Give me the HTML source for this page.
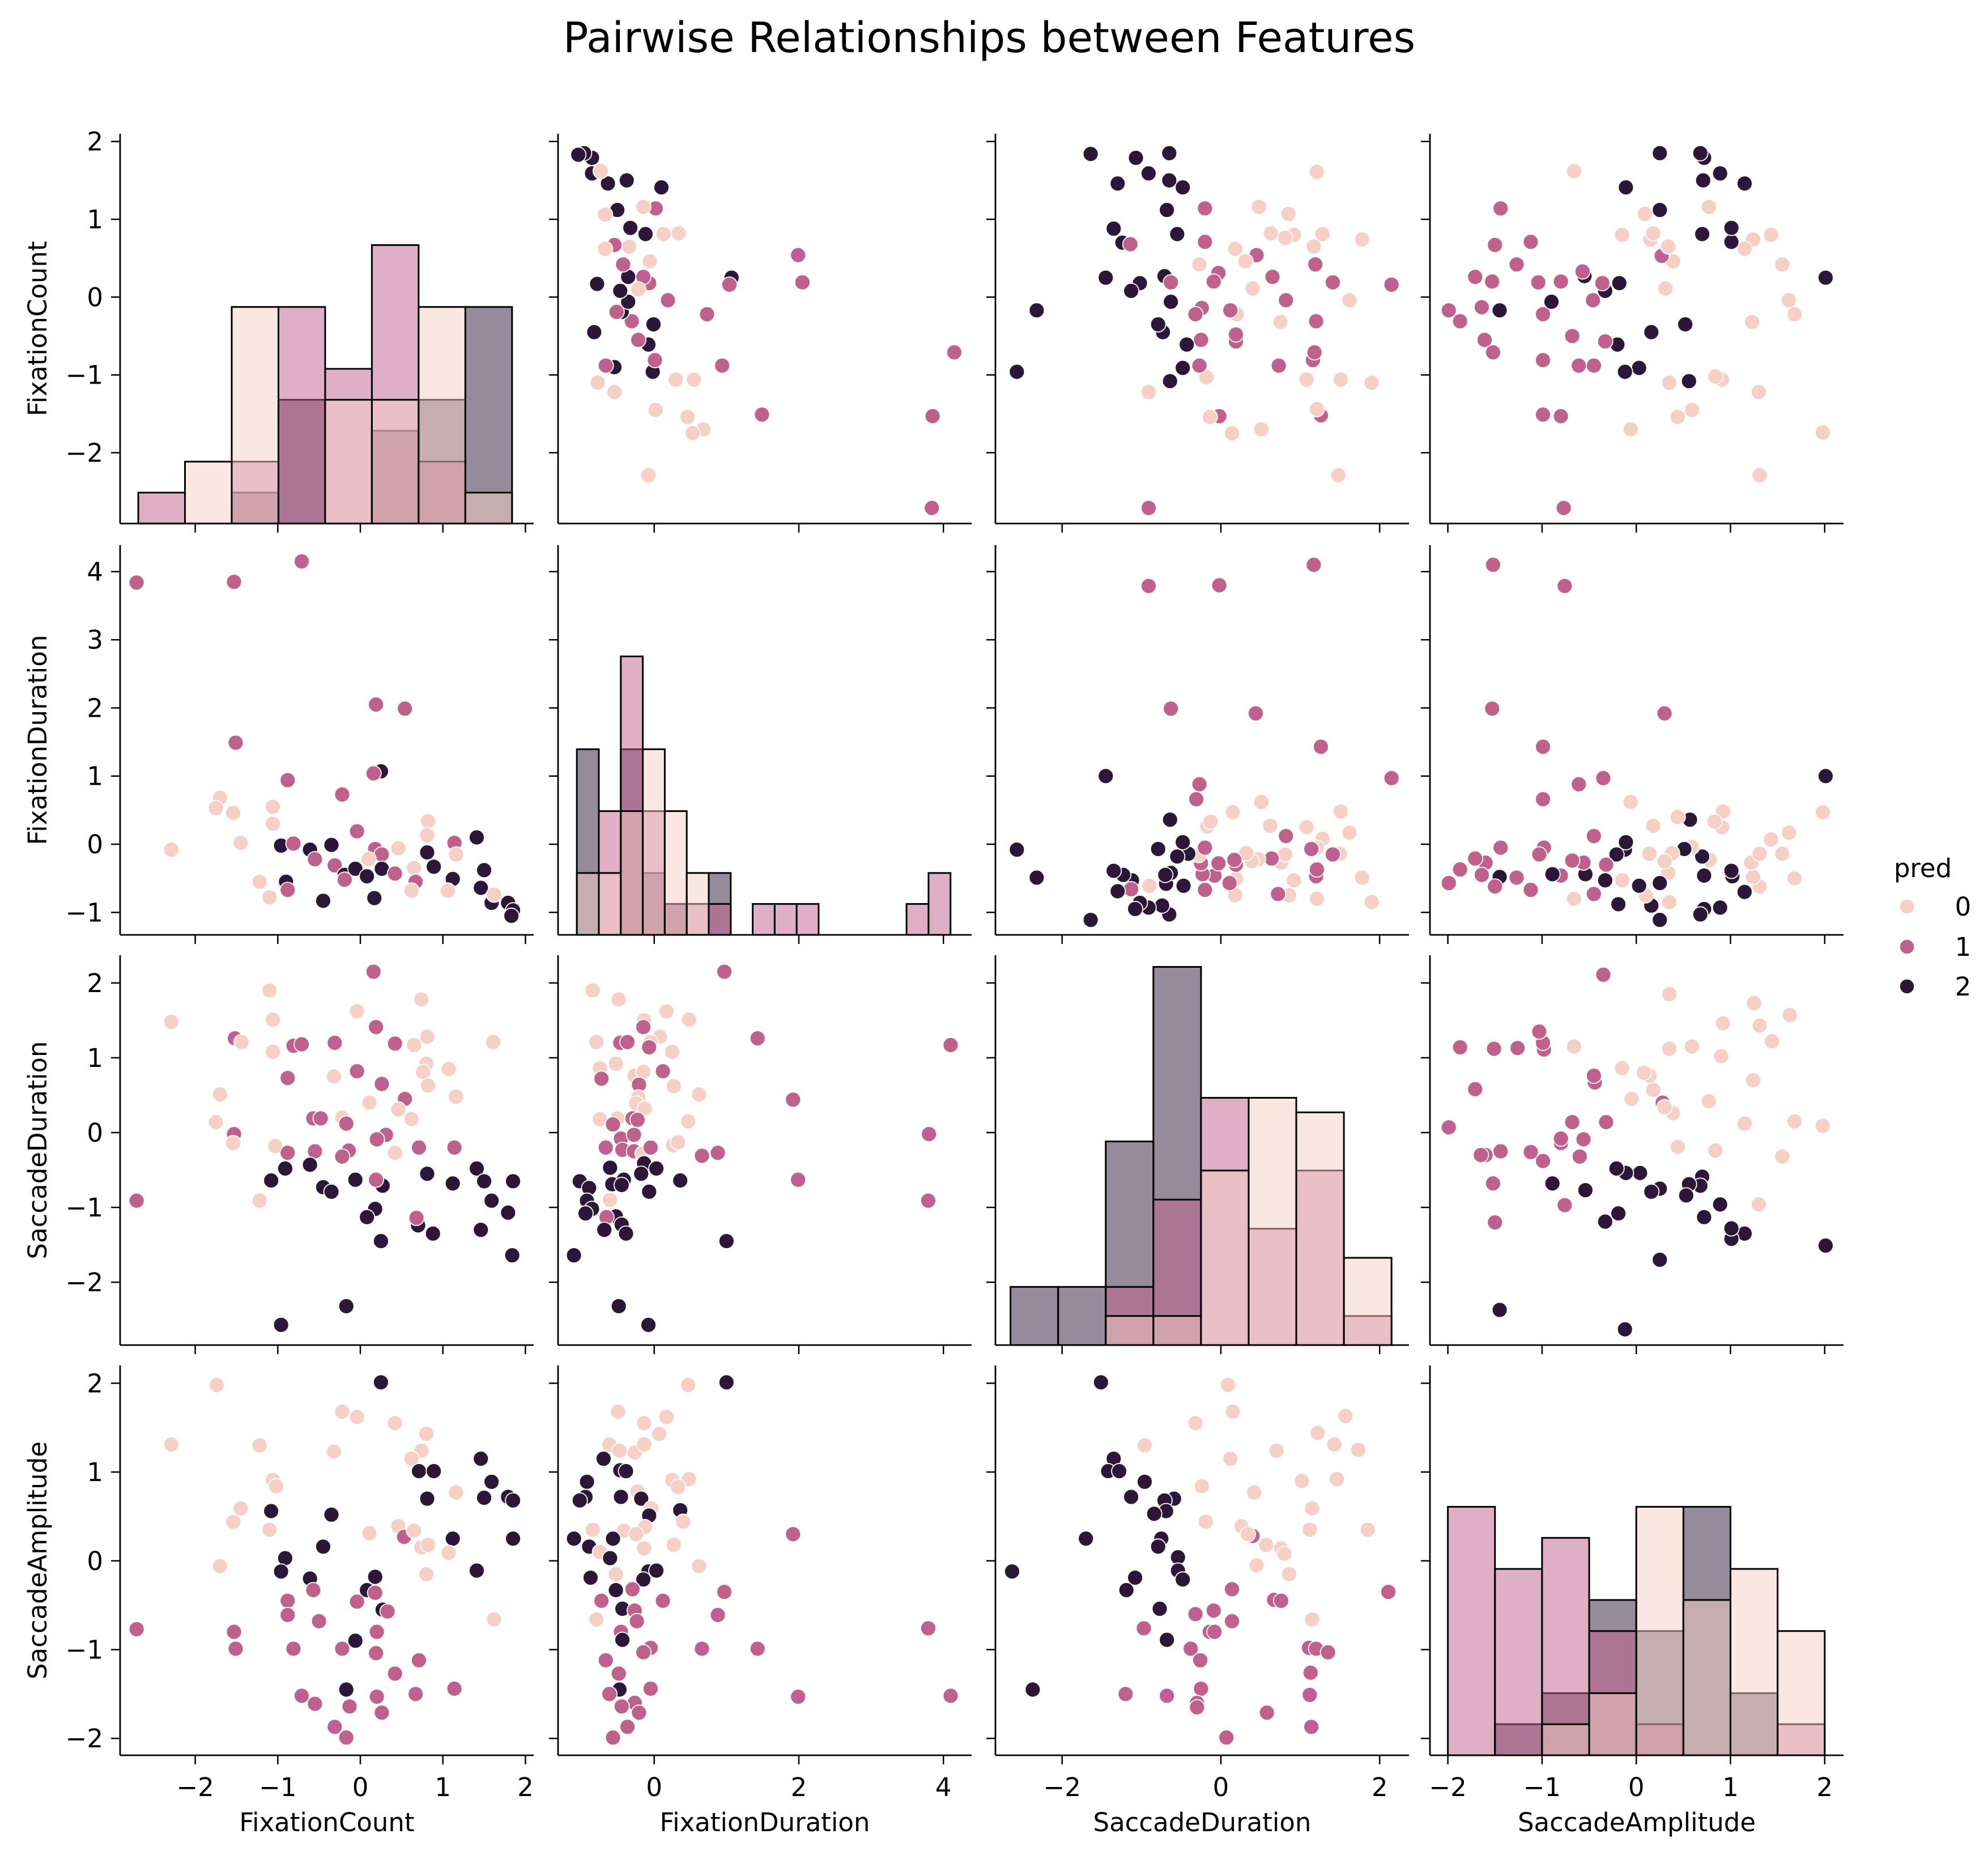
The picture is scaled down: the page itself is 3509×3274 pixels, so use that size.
<!DOCTYPE html>
<html>
<head>
<meta charset="utf-8">
<style>
  html, body { margin: 0; padding: 0; background: #ffffff; }
  svg { display: block; font-family: "DejaVu Sans", "Liberation Sans", sans-serif; }
</style>
</head>
<body>
<svg id="chart" xmlns="http://www.w3.org/2000/svg" width="3509" height="3274" viewBox="0 0 3509 3274">
  <rect x="0" y="0" width="3509" height="3274" fill="#ffffff"/>
  <text x="1746" y="92" font-size="74" text-anchor="middle" fill="#000">Pairwise Relationships between Features</text>
  <g id="panels"></g>
  <g id="legend">
    <text x="3394" y="1548" font-size="45" text-anchor="middle" fill="#000">pred</text>
  </g>
</svg>
<script>
// ---- data ----
const varNames = ['FixationCount', 'FixationDuration', 'SaccadeDuration', 'SaccadeAmplitude'];
const axisLimits = [[-2.91, 2.10], [-1.33, 4.39], [-2.84, 2.37], [-2.19, 2.20]];
const tickValues = [[-2, -1, 0, 1, 2], [0, 2, 4], [-2, 0, 2], [-2, -1, 0, 1, 2]];
const yTickValues = [[-2, -1, 0, 1, 2], [-1, 0, 1, 2, 3, 4], [-2, -1, 0, 1, 2], [-2, -1, 0, 1, 2]];
const hueLevels = ['0', '1', '2'];
const hueColors = ['#f6cfc5', '#c0608c', '#2d1738'];

// scatter pairs: [xValue, yValue, hue]; x = lower-index variable, y = higher-index variable
const countVsDuration = [
[-2.71,3.84,1],[-1.53,3.85,1],[-0.71,4.15,1],[0.19,2.05,1],[0.54,1.99,1],[-1.51,1.49,1],[0.25,1.07,2],[0.16,1.04,1],
[-0.88,0.94,1],[-0.22,0.73,1],[-1.70,0.68,0],[-1.75,0.53,0],[-1.54,0.46,0],[-1.06,0.55,0],[-1.06,0.30,0],[-1.45,0.02,0],
[-2.29,-0.08,0],[0.82,0.34,0],[0.81,0.13,0],[-0.04,0.19,1],[-0.96,-0.02,2],[-0.81,0.01,1],[-0.61,-0.08,2],[-0.35,-0.01,2],
[-0.55,-0.22,1],[-0.31,-0.31,1],[0.18,-0.07,1],[0.26,-0.15,1],[0.10,-0.22,0],[0.46,-0.06,0],[-0.19,-0.45,2],[-0.06,-0.36,2],
[0.08,-0.47,2],[0.26,-0.36,2],[0.42,-0.43,1],[0.65,-0.35,0],[0.67,-0.55,1],[0.62,-0.68,0],[0.81,-0.12,2],[0.89,-0.33,2],
[1.14,0.02,1],[1.16,-0.15,0],[1.41,0.10,2],[1.12,-0.51,2],[1.06,-0.68,0],[1.50,-0.38,2],[1.46,-0.64,2],[1.59,-0.86,2],
[1.62,-0.74,0],[1.79,-0.86,2],[1.85,-0.97,2],[1.83,-1.05,2],[-0.90,-0.55,2],[-0.88,-0.67,1],[-1.22,-0.55,0],[-1.10,-0.78,0],
[-0.45,-0.83,2],[0.17,-0.79,2],[-0.19,-0.52,1]
];
const countVsSaccDur = [
[0.16,2.15,1],[-1.10,1.90,0],[0.74,1.78,0],[-2.29,1.48,0],[-1.06,1.51,0],[-0.04,1.62,0],[0.19,1.41,1],[-1.52,1.26,1],
[-1.44,1.21,0],[-1.06,1.08,0],[-0.81,1.16,1],[-0.71,1.18,1],[-0.31,1.20,1],[0.42,1.19,1],[0.65,1.17,0],[0.81,1.28,0],
[1.61,1.21,0],[0.80,0.92,0],[0.76,0.81,0],[1.07,0.85,0],[0.82,0.63,0],[-0.88,0.73,1],[-0.32,0.75,0],[-0.04,0.82,1],
[0.26,0.65,1],[1.16,0.48,0],[0.54,0.45,1],[0.11,0.40,0],[0.46,0.31,0],[0.62,0.18,0],[-1.70,0.51,0],[-1.75,0.14,0],
[-1.53,-0.02,1],[-1.54,-0.14,0],[-0.57,0.19,1],[-0.48,0.19,1],[-0.22,0.20,0],[-0.17,0.12,1],[0.31,-0.03,1],[0.20,-0.09,1],
[-1.03,-0.18,0],[-0.88,-0.27,1],[-0.55,-0.25,1],[-0.14,-0.24,1],[-0.22,-0.32,1],[0.42,-0.27,0],[0.71,-0.20,1],[1.14,-0.20,1],
[-0.91,-0.48,2],[-0.61,-0.43,2],[-1.08,-0.64,2],[-0.45,-0.73,2],[-0.35,-0.79,2],[-0.06,-0.63,2],[0.27,-0.71,2],[0.19,-0.63,1],
[0.81,-0.55,2],[1.12,-0.68,2],[1.41,-0.48,2],[1.50,-0.65,2],[1.85,-0.65,2],[1.59,-0.91,2],[1.79,-1.07,2],[1.46,-1.30,2],
[1.84,-1.64,2],[0.18,-1.02,2],[0.08,-1.13,2],[0.70,-1.24,2],[0.68,-1.14,1],[0.88,-1.35,2],[0.25,-1.45,2],[-2.71,-0.91,1],
[-1.22,-0.91,0],[-0.17,-2.32,2],[-0.96,-2.57,2]
];
const countVsAmplitude = [
[0.25,2.01,2],[-1.74,1.98,0],[-0.22,1.68,0],[-0.04,1.62,0],[0.42,1.55,0],[0.80,1.43,0],[-2.29,1.31,0],[-1.22,1.30,0],
[-0.32,1.23,0],[0.74,1.24,0],[0.62,1.15,0],[1.46,1.15,2],[0.71,1.01,2],[0.89,1.01,2],[1.59,0.89,2],[-1.06,0.91,0],
[-1.02,0.84,0],[0.81,0.70,2],[1.16,0.77,0],[1.50,0.71,2],[1.79,0.72,2],[1.85,0.68,2],[-1.45,0.59,0],[-1.54,0.44,0],
[-1.08,0.56,2],[-0.35,0.52,2],[-1.10,0.35,0],[0.11,0.31,0],[0.46,0.39,0],[0.53,0.27,1],[0.65,0.34,0],[1.12,0.25,2],
[1.85,0.25,2],[0.74,0.15,0],[0.82,0.18,0],[1.07,0.09,0],[-0.45,0.16,2],[-1.70,-0.06,0],[-0.91,0.03,2],[-0.96,-0.12,2],
[-0.61,-0.20,2],[0.18,-0.18,2],[0.80,-0.15,0],[1.41,-0.11,2],[-0.57,-0.33,1],[0.08,-0.33,2],[0.18,-0.36,1],[-0.88,-0.45,1],
[-0.04,-0.46,1],[0.27,-0.55,2],[0.33,-0.57,1],[-0.88,-0.61,1],[-0.50,-0.68,1],[1.62,-0.66,0],[-2.71,-0.77,1],[-1.53,-0.80,1],
[-1.51,-0.99,1],[-0.81,-0.99,1],[-0.22,-0.99,1],[-0.06,-0.90,2],[0.20,-0.80,1],[0.19,-1.04,1],[0.71,-1.12,1],[0.42,-1.27,1],
[1.14,-1.44,1],[0.67,-1.50,1],[-0.17,-1.45,2],[-0.71,-1.52,1],[-0.55,-1.61,1],[-0.13,-1.64,1],[0.20,-1.53,1],[0.26,-1.71,1],
[-0.31,-1.87,1],[-0.17,-1.99,1]
];
const durationVsSaccDur = [
[0.97,2.15,1],[-0.85,1.90,0],[-0.49,1.78,0],[0.17,1.62,0],[0.48,1.51,0],[-0.14,1.50,0],[-0.15,1.41,1],[0.08,1.28,0],
[-0.80,1.21,0],[-0.47,1.20,1],[-0.37,1.21,1],[-0.05,1.21,0],[-0.07,1.14,1],[0.25,1.08,0],[1.43,1.26,1],[4.10,1.17,1],
[-0.53,0.92,0],[-0.75,0.86,0],[-0.73,0.72,1],[-0.27,0.76,0],[-0.15,0.81,0],[0.12,0.82,1],[-0.21,0.64,1],[0.27,0.62,0],
[0.62,0.51,0],[-0.22,0.47,0],[-0.25,0.39,0],[-0.13,0.32,0],[1.92,0.44,1],[-0.75,0.18,0],[-0.51,0.19,0],[-0.57,0.11,1],
[-0.30,0.19,1],[-0.23,0.17,1],[0.47,0.15,0],[-0.46,-0.08,1],[-0.28,-0.03,1],[-0.67,-0.20,1],[-0.44,-0.23,1],[-0.28,-0.25,1],
[-0.16,-0.28,0],[-0.05,-0.20,1],[0.26,-0.17,0],[0.33,-0.13,0],[0.66,-0.31,1],[0.88,-0.27,1],[3.80,-0.02,1],[-0.61,-0.47,2],
[-0.14,-0.41,2],[0.03,-0.48,2],[-0.18,-0.55,2],[-1.03,-0.65,2],[-0.90,-0.74,2],[-0.58,-0.69,2],[-0.42,-0.63,2],[-0.45,-0.70,2],
[0.36,-0.64,2],[-0.07,-0.79,2],[1.99,-0.63,1],[-0.93,-0.91,2],[-0.61,-0.90,0],[-0.86,-1.02,2],[-0.95,-1.08,2],[-0.53,-1.12,2],
[-0.66,-1.13,1],[-0.45,-1.23,2],[-0.69,-1.30,2],[-0.39,-1.35,2],[3.79,-0.91,1],[1.00,-1.45,2],[-1.11,-1.64,2],[-0.49,-2.32,2],
[-0.08,-2.57,2]
];
const durationVsAmplitude = [
[1.00,2.01,2],[0.47,1.98,0],[-0.50,1.68,0],[0.17,1.62,0],[-0.14,1.55,0],[0.07,1.43,0],[-0.62,1.31,0],[-0.48,1.24,0],
[-0.27,1.22,0],[-0.14,1.31,0],[-0.70,1.15,2],[-0.47,1.02,2],[-0.39,1.01,2],[-0.93,0.89,2],[0.25,0.91,0],[0.48,0.92,0],
[0.33,0.83,0],[-0.23,0.78,0],[-0.95,0.72,2],[-1.03,0.68,2],[-0.46,0.72,2],[-0.18,0.70,2],[-0.04,0.59,0],[-0.07,0.51,2],
[0.36,0.57,2],[0.40,0.44,0],[-0.85,0.35,0],[-0.42,0.34,0],[-0.13,0.38,0],[-0.25,0.30,0],[-1.11,0.25,2],[-0.57,0.25,2],
[-0.90,0.16,2],[0.27,0.18,0],[-0.14,0.14,0],[-0.75,0.10,0],[-0.61,0.03,2],[1.92,0.30,1],[0.62,-0.06,0],[-0.08,-0.12,2],
[0.03,-0.11,2],[-0.88,-0.19,2],[-0.53,-0.15,0],[-0.15,-0.21,2],[-0.53,-0.33,2],[-0.30,-0.32,1],[0.97,-0.35,1],[-0.73,-0.45,1],
[0.12,-0.45,1],[-0.44,-0.54,2],[-0.27,-0.56,1],[-0.24,-0.68,1],[0.88,-0.61,1],[-0.80,-0.66,0],[-0.46,-0.80,1],[-0.44,-0.89,2],
[3.79,-0.76,1],[-0.05,-0.98,1],[-0.15,-1.03,1],[0.66,-0.99,1],[1.43,-0.99,1],[-0.67,-1.12,1],[-0.49,-1.27,1],[-0.05,-1.44,1],
[-0.48,-1.45,2],[-0.62,-1.50,1],[-0.27,-1.60,1],[-0.45,-1.64,1],[-0.21,-1.71,1],[1.99,-1.53,1],[4.10,-1.52,1],[-0.37,-1.87,1],
[-0.57,-1.99,1]
];
const saccDurVsAmplitude = [
[-1.51,2.01,2],[0.09,1.98,0],[0.15,1.68,0],[-0.32,1.55,0],[1.57,1.63,0],[1.22,1.44,0],[1.43,1.31,0],[1.73,1.25,0],
[0.70,1.24,0],[-0.96,1.30,0],[0.12,1.15,0],[-1.35,1.15,2],[-1.42,1.01,2],[-1.28,1.01,2],[-0.96,0.89,2],[1.02,0.90,0],
[1.46,0.92,0],[-0.24,0.84,0],[0.42,0.77,0],[-1.13,0.72,2],[-0.59,0.70,2],[-0.71,0.68,2],[-0.69,0.56,2],[-0.84,0.53,2],
[1.15,0.59,0],[-0.19,0.44,0],[0.26,0.39,0],[0.40,0.28,1],[0.34,0.30,0],[1.12,0.35,0],[1.85,0.35,0],[-1.70,0.25,2],
[-0.75,0.25,2],[-0.79,0.16,2],[0.57,0.18,0],[0.76,0.14,0],[0.80,0.08,0],[-0.54,0.04,2],[-2.63,-0.12,2],[-0.54,-0.11,2],
[-0.48,-0.21,2],[0.45,-0.05,0],[0.86,-0.15,0],[-1.08,-0.19,2],[-1.19,-0.33,2],[0.14,-0.32,1],[0.67,-0.44,1],[0.76,-0.45,1],
[2.11,-0.35,1],[-0.77,-0.54,2],[-0.09,-0.56,1],[-0.32,-0.60,1],[0.14,-0.68,1],[1.15,-0.66,0],[-0.97,-0.76,1],[-0.14,-0.80,1],
[-0.08,-0.80,1],[-0.68,-0.89,2],[-0.38,-0.99,1],[-0.26,-1.12,1],[1.11,-0.98,1],[1.20,-0.99,1],[1.35,-1.03,1],[1.13,-1.26,1],
[-2.37,-1.45,2],[-1.20,-1.50,1],[-0.68,-1.52,1],[-0.25,-1.44,1],[-0.30,-1.60,1],[-0.30,-1.65,1],[1.12,-1.51,1],[0.58,-1.71,1],
[1.14,-1.87,1],[0.07,-1.99,1]
];

// histogram data: bin start, bin width, counts per hue
const histBinStart = [-2.69, -1.07, -2.65, -2.0];
const histBinWidth = [0.566, 0.304, 0.6, 0.5];
const histCountMax = [12.6, 12.6, 13.4, 12.55];
const countHistHue0 = [0, 2, 7, 0, 4, 4, 7, 1];
const countHistHue1 = [1, 0, 2, 7, 5, 9, 2, 0];
const countHistHue2 = [0, 0, 1, 4, 0, 3, 4, 7];
const durationHistHue0 = [2, 2, 4, 6, 4, 2, 0, 0, 0, 0, 0, 0, 0, 0, 0, 0, 0];
const durationHistHue1 = [0, 4, 9, 4, 1, 1, 1, 0, 1, 1, 1, 0, 0, 0, 0, 1, 2];
const durationHistHue2 = [6, 0, 6, 2, 1, 0, 2, 0, 0, 0, 0, 0, 0, 0, 0, 0, 0];
const saccDurHistHue0 = [0, 0, 1, 1, 6, 8.5, 8, 3];
const saccDurHistHue1 = [0, 0, 2, 5, 8.5, 4, 6, 1];
const saccDurHistHue2 = [2, 2, 7, 13, 0, 0, 0, 0];
const amplitudeHistHue0 = [0, 0, 1, 2, 8, 5, 6, 4];
const amplitudeHistHue1 = [8, 6, 7, 4, 1, 0, 0, 1];
const amplitudeHistHue2 = [0, 1, 2, 5, 4, 8, 2, 0];

const pairData = {
  '0-1': countVsDuration, '0-2': countVsSaccDur, '0-3': countVsAmplitude,
  '1-2': durationVsSaccDur, '1-3': durationVsAmplitude, '2-3': saccDurVsAmplitude
};
const histData = [
  [countHistHue0, countHistHue1, countHistHue2],
  [durationHistHue0, durationHistHue1, durationHistHue2],
  [saccDurHistHue0, saccDurHistHue1, saccDurHistHue2],
  [amplitudeHistHue0, amplitudeHistHue1, amplitudeHistHue2]
];

// ---- layout ----
const NS = 'http://www.w3.org/2000/svg';
const panelLeft = [212, 985, 1757, 2524];
const panelTop = [236, 962, 1686, 2410];
const PW = 730, PH = 688;
const FS = 45;
const root = document.getElementById('panels');

function mk(tag, attrs, parent) {
  const el = document.createElementNS(NS, tag);
  for (const k in attrs) el.setAttribute(k, attrs[k]);
  parent.appendChild(el);
  return el;
}
function sx(col, v) { const [a, b] = axisLimits[col]; return panelLeft[col] + (v - a) / (b - a) * PW; }
function sy(row, v) { const [a, b] = axisLimits[row]; return panelTop[row] + PH - (v - a) / (b - a) * PH; }
function fmt(v) { return v < 0 ? '\u2212' + Math.abs(v) : String(v); }

for (let r = 0; r < 4; r++) {
  for (let c = 0; c < 4; c++) {
    const g = mk('g', {}, root);
    
    
    const x0 = panelLeft[c], y0 = panelTop[r];
    if (r === c) {
      const counts = histData[r];
      const unit = PH / histCountMax[r];
      for (let h = 2; h >= 0; h--) {
        counts[h].forEach((n, i) => {
          if (!n) return;
          const xa = sx(c, histBinStart[r] + i * histBinWidth[r]);
          const xb = sx(c, histBinStart[r] + (i + 1) * histBinWidth[r]);
          const bar = mk('rect', { x: xa, y: y0 + PH - n * unit, width: xb - xa, height: n * unit,
            fill: hueColors[h], 'fill-opacity': 0.5, stroke: '#000', 'stroke-width': 3 }, g);
          
          
        });
      }
    } else {
      const lo = Math.min(r, c), hi = Math.max(r, c);
      const pts = pairData[lo + '-' + hi];
      pts.forEach(p => {
        const xv = c < r ? p[0] : p[1];
        const yv = c < r ? p[1] : p[0];
        const dot = mk('circle', { cx: sx(c, xv), cy: sy(r, yv), r: 13.5, fill: hueColors[p[2]],
          stroke: '#ffffff', 'stroke-width': 1.8 }, g);
        
        
      });
    }
    // spines
    const ls = mk('line', { x1: x0, y1: y0, x2: x0, y2: y0 + PH, stroke: '#000', 'stroke-width': 2.8 }, g);
    
    
    const bs = mk('line', { x1: x0, y1: y0 + PH, x2: x0 + PW, y2: y0 + PH, stroke: '#000', 'stroke-width': 2.8 }, g);
    
    
    // y ticks
    yTickValues[r].forEach(v => {
      const y = sy(r, v);
      const t = mk('line', { x1: x0 - 16, y1: y, x2: x0, y2: y, stroke: '#000', 'stroke-width': 2.5 }, g);
      
      
      if (c === 0) {
        const lab = mk('text', { x: x0 - 30, y: y + 16, 'font-size': FS, 'text-anchor': 'end', fill: '#000' }, g);
        lab.textContent = fmt(v);
        
        
      }
    });
    // x ticks
    tickValues[c].forEach(v => {
      const x = sx(c, v);
      const t = mk('line', { x1: x, y1: y0 + PH, x2: x, y2: y0 + PH + 16, stroke: '#000', 'stroke-width': 2.5 }, g);
      
      
      if (r === 3) {
        const lab = mk('text', { x: x, y: y0 + PH + 72, 'font-size': FS, 'text-anchor': 'middle', fill: '#000' }, g);
        lab.textContent = fmt(v);
        
        
      }
    });
  }
}
// axis titles
for (let i = 0; i < 4; i++) {
  const xt = mk('text', { x: panelLeft[i] + PW / 2, y: 3232, 'font-size': FS, 'text-anchor': 'middle', fill: '#000' }, root);
  xt.textContent = varNames[i];
  
  
  const cy = panelTop[i] + PH / 2;
  const yt = mk('text', { x: 82, y: cy, 'font-size': FS, 'text-anchor': 'middle', fill: '#000',
    transform: 'rotate(-90 82 ' + cy + ')' }, root);
  yt.textContent = varNames[i];
  
  
}
// legend
const legend = document.getElementById('legend');
const legendY = [1600, 1671, 1741];
hueLevels.forEach((lv, i) => {
  const m = mk('circle', { cx: 3366, cy: legendY[i], r: 13, fill: hueColors[i], stroke: '#fff', 'stroke-width': 1.5 }, legend);
  
  
  const t = mk('text', { x: 3465, y: legendY[i] + 16, 'font-size': FS, 'text-anchor': 'middle', fill: '#000' }, legend);
  t.textContent = lv;
  
  
});
</script>
</body>
</html>
